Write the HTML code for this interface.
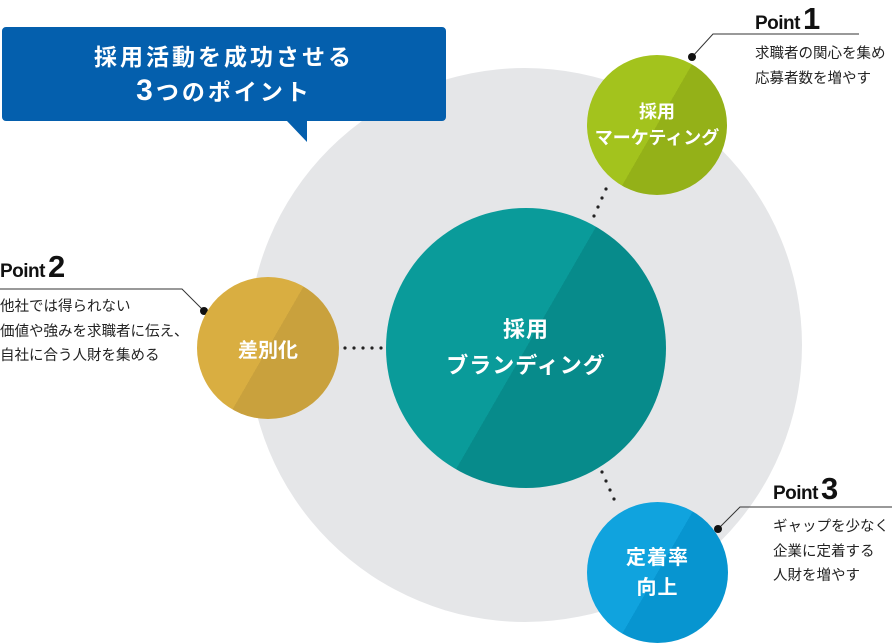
<!DOCTYPE html>
<html><head><meta charset="utf-8"><style>
body{margin:0;width:892px;height:644px;position:relative;overflow:hidden;background:#fff;font-family:"Liberation Sans","Noto Sans CJK JP",sans-serif}
.a{position:absolute}
.c{position:absolute;border-radius:50%;color:#fff;font-weight:bold;display:flex;align-items:center;justify-content:center;text-align:center}
.t{position:absolute;font-size:14.5px;color:#222;line-height:24.5px;white-space:nowrap}
.p{position:absolute;font-weight:bold;font-size:19px;color:#111;white-space:nowrap;letter-spacing:-0.5px}
.p b{font-size:31px;margin-left:3px}
</style></head><body>
<div class="a" style="left:248px;top:68px;width:554px;height:554px;border-radius:50%;background:#e5e6e8"></div>
<svg class="a" style="left:0;top:0" width="892" height="644">
<g fill="#222">
<circle cx="345" cy="348" r="1.6"/><circle cx="354" cy="348" r="1.6"/><circle cx="363" cy="348" r="1.6"/><circle cx="372" cy="348" r="1.6"/><circle cx="381" cy="348" r="1.6"/>
<circle cx="606" cy="189" r="1.6"/><circle cx="602" cy="198" r="1.6"/><circle cx="598" cy="207" r="1.6"/><circle cx="594" cy="216" r="1.6"/>
<circle cx="602" cy="472" r="1.6"/><circle cx="606" cy="481" r="1.6"/><circle cx="610" cy="490" r="1.6"/><circle cx="614" cy="499" r="1.6"/>
</g>
<g stroke="#333" stroke-width="1" fill="none">
<polyline points="692,57 713,34 859,34"/>
<polyline points="0,289 182,289 204,311"/>
<polyline points="718,529 740,507 892,507"/>
</g>
<g fill="#111"><circle cx="692" cy="57" r="4"/><circle cx="204" cy="311" r="4"/><circle cx="718" cy="529" r="4"/></g>
<path d="M3,27 H442 a4,4 0 0 1 4,4 V117 a4,4 0 0 1 -4,4 H307 V142 L287,121 H6 a4,4 0 0 1 -4,-4 V31 a4,4 0 0 1 4,-4Z" fill="#045fad"/>
</svg>
<div class="a" style="left:2px;top:40px;width:444px;text-align:center;color:#fff;font-weight:bold;font-size:23px;line-height:34px;letter-spacing:3px">採用活動を成功させる<br><span style="font-size:30px">3</span>つのポイント</div>
<div class="c" style="left:386px;top:208px;width:280px;height:280px;background:linear-gradient(120deg,#0a9b9a 50%,#078b8b 50%);font-size:22px;line-height:36px;letter-spacing:1px">採用<br>ブランディング</div>
<div class="c" style="left:587px;top:55px;width:140px;height:140px;background:linear-gradient(120deg,#a3c31d 50%,#94b118 50%);font-size:18px;line-height:26px">採用<br>マーケティング</div>
<div class="c" style="left:197px;top:277px;width:142px;height:142px;background:linear-gradient(120deg,#d9ae41 50%,#c9a13d 50%);font-size:20px">差別化</div>
<div class="c" style="left:587px;top:502px;width:141px;height:141px;background:linear-gradient(120deg,#10a3de 50%,#0795d0 50%);font-size:20px;line-height:30px;letter-spacing:1px">定着率<br>向上</div>
<div class="p" style="left:755px;top:1px">Point<b>1</b></div>
<div class="t" style="left:755px;top:42px">求職者の関心を集め<br>応募者数を増やす</div>
<div class="p" style="left:0px;top:249px">Point<b>2</b></div>
<div class="t" style="left:0px;top:295px">他社では得られない<br>価値や強みを求職者に伝え、<br>自社に合う人財を集める</div>
<div class="p" style="left:773px;top:471px">Point<b>3</b></div>
<div class="t" style="left:773px;top:515px">ギャップを少なくし、<br>企業に定着する<br>人財を増やす</div>
</body></html>
